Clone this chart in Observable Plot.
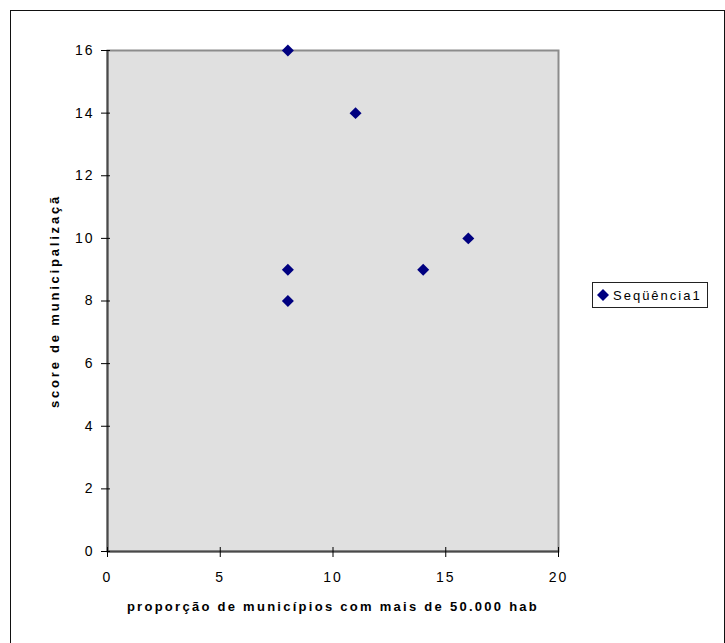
<!DOCTYPE html>
<html><head><meta charset="utf-8">
<script src="https://cdn.jsdelivr.net/npm/d3@7"></script>
<script src="https://cdn.jsdelivr.net/npm/@observablehq/plot@0.6"></script>
<style>
html,body{margin:0;padding:0;background:#fff;overflow:hidden;}
#wrap{position:relative;width:725px;height:643px;font-family:"Liberation Sans",Arial,sans-serif;}
#border{position:absolute;left:10px;top:10px;width:715px;height:700px;border:1px solid #111;box-sizing:border-box;pointer-events:none;}
#chart{position:absolute;left:0;top:0;}
#legend{position:absolute;left:592px;top:282px;width:116px;height:26px;border:1px solid #222;box-sizing:border-box;background:#fff;display:flex;align-items:center;padding-left:4px;font-size:13px;letter-spacing:2px;color:#000;}
#legend svg{margin-right:4px;}
</style>
</head><body>
<div id="wrap"><div id="chart"></div><div id="border"></div><div id="legend"></div></div>
<script>
const xValues = [8, 11, 8, 8, 14, 16];
const yValues = [16, 14, 9, 8, 9, 10];
const seriesName = "Seqüência1";
const xTicks = [0, 5, 10, 15, 20];
const yTicks = [0, 2, 4, 6, 8, 10, 12, 14, 16];
const xTitle = "proporção de municípios com mais de 50.000 hab";
const yTitle = "score de municipalizaçã";
const markerColor = "#000080";

const chart = Plot.plot({
  width: 725, height: 643,
  marginLeft: 107, marginRight: 167, marginTop: 50, marginBottom: 92,
  x: {domain: [0, 20], axis: null},
  y: {domain: [0, 16], axis: null},
  style: {fontFamily: "'Liberation Sans', Arial, sans-serif", fontSize: "14px", color: "#000", background: "transparent", overflow: "visible", letterSpacing: "2px"},
  marks: [
    Plot.frame({fill: "#e0e0e0", stroke: "#8c8c8c", strokeWidth: 2}),
    Plot.ruleY([0], {stroke: "#4a4a4a", strokeWidth: 2}),
    Plot.ruleX([0], {stroke: "#4a4a4a", strokeWidth: 2}),
    Plot.axisY({ticks: yTicks, tickSize: 9, dx: 3, fill: null, label: null, stroke: "#000"}),
    Plot.axisY({ticks: yTicks, tickSize: 0, tickPadding: 13, label: null, fill: "#000", fontSize: 14}),
    Plot.axisX({ticks: xTicks, tickSize: 10, dy: -4, fill: null, label: null, stroke: "#000"}),
    Plot.axisX({ticks: xTicks, tickSize: 0, tickPadding: 21, label: null, fill: "#000", fontSize: 14}),
    Plot.dot(xValues, {x: xValues, y: yValues, symbol: "diamond2", r: 5.4, fill: markerColor, stroke: "none"}),
    Plot.text([xTitle], {text: d => d, frameAnchor: "bottom", dy: 59, fontWeight: "bold", fontSize: 13, fill: "#000"}),
    Plot.text([yTitle], {text: d => d, frameAnchor: "left", textAnchor: "middle", dx: -53, rotate: -90, fontWeight: "bold", fontSize: 13, fill: "#000"})
  ]
});
document.getElementById("chart").appendChild(chart);
d3.select(chart).selectAll("text").filter(function() { return this.textContent === xTitle; }).style("letter-spacing", "2.27px");
d3.select(chart).selectAll("text").filter(function() { return this.textContent === yTitle; }).style("letter-spacing", "2.8px");

const lg = document.getElementById("legend");
lg.innerHTML = `<svg width="12" height="12" viewBox="-6 -6 12 12"><path d="M0,-6L6,0L0,6L-6,0Z" fill="${markerColor}"/></svg><span>${seriesName}</span>`;
</script>
</body></html>
